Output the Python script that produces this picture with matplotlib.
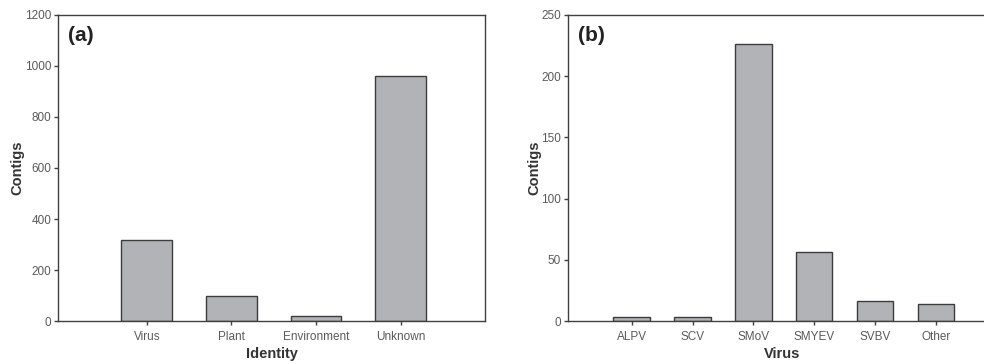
import matplotlib
matplotlib.use('Agg')
import matplotlib.pyplot as plt
import numpy as np

plt.rcParams['font.family'] = ['Liberation Sans', 'DejaVu Sans']

identity = ['Virus', 'Plant', 'Environment', 'Unknown']
identity_contigs = [318, 100, 18, 960]

virus = ['ALPV', 'SCV', 'SMoV', 'SMYEV', 'SVBV', 'Other']
virus_contigs = [3, 3, 226, 56, 16, 14]

bar_face = '#b2b3b6'
bar_edge = '#3c3c3c'
axis_col = '#404040'
tick_col = '#5a5a5a'

fig = plt.figure(figsize=(9.84, 3.64), dpi=100)
ax1 = fig.add_axes([0.059, 0.118, 0.434, 0.841])
ax2 = fig.add_axes([0.577, 0.118, 0.436, 0.841])


def style(ax, cats, vals, ymax, ystep, xlab, tag):
    x = np.arange(len(cats))
    ax.bar(x, vals, width=0.6, color=bar_face, edgecolor=bar_edge, linewidth=1.0)
    ax.set_xticks(x)
    ax.set_xticklabels(cats)
    ax.set_xlim(-1.05, len(cats))
    ax.set_ylim(0, ymax)
    ax.set_yticks(np.arange(0, ymax + 1, ystep))
    for s in ax.spines.values():
        s.set_color(axis_col)
        s.set_linewidth(1.0)
    ax.tick_params(axis='both', colors=axis_col, labelcolor=tick_col,
                   labelsize=8.5, length=3, width=1.0, direction='out')
    ax.tick_params(axis='x', pad=4)
    ax.tick_params(axis='y', pad=2)
    ax.set_ylabel('Contigs', fontsize=10.5, fontweight='bold', color='#333333', labelpad=0)
    ax.set_xlabel(xlab, fontsize=10.5, fontweight='bold', color='#333333', labelpad=3)
    ax.text(0.023, 0.965, tag, transform=ax.transAxes, fontsize=15,
            fontweight='bold', va='top', ha='left', color='#222222')


style(ax1, identity, identity_contigs, 1200, 200, 'Identity', '(a)')
style(ax2, virus, virus_contigs, 250, 50, 'Virus', '(b)')

fig.savefig('out.png', dpi=100)
